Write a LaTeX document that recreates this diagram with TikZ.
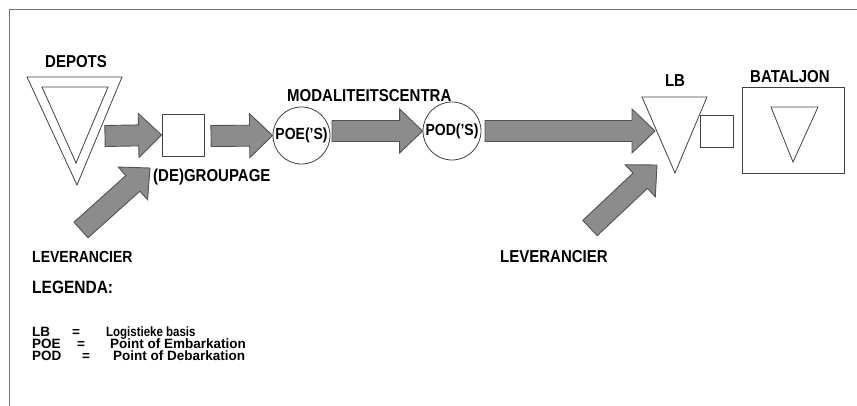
\documentclass[tikz,border=0pt]{standalone}
\usepackage{fontspec}
\usepackage{graphicx}
\setmainfont{Liberation Sans}
\usetikzlibrary{calc}

% slightly taller lettering
\newcommand{\tall}[1]{\scalebox{1}[1.15]{#1}}

% block arrow from a tail coordinate to a tip coordinate
\newcommand{\bashaft}{10.5pt}
\newcommand{\bahead}{23pt}
\newcommand{\bahalf}{22pt}
\newcommand{\blockarrow}[2]{%
  \coordinate (ba-base) at ($(#2)!\bahead!(#1)$);
  \filldraw[bigarrow]
    ($(#1)!\bashaft!90:(#2)$) --
    ($(ba-base)!\bashaft!-90:(#1)$) --
    ($(ba-base)!\bahalf!-90:(#1)$) --
    (#2) --
    ($(ba-base)!\bahalf!90:(#1)$) --
    ($(ba-base)!\bashaft!90:(#1)$) --
    ($(#1)!\bashaft!-90:(#2)$) -- cycle;}

\begin{document}
\begin{tikzpicture}[x=1pt,y=-1pt,
  outline/.style={draw=black!75,line width=0.8pt},
  bigarrow/.style={fill=black!45,draw=black!68,line width=0.9pt},
  heading/.style={font=\fontsize{15}{18}\selectfont\bfseries,inner sep=0pt,anchor=base west},
  legend/.style={font=\fontsize{13.5}{16}\selectfont\bfseries,inner sep=0pt,anchor=base west,
    text height=9.5pt,text depth=1.5pt},
  inside/.style={font=\fontsize{14}{16}\selectfont\bfseries,inner sep=0pt}]
\useasboundingbox (0,0) rectangle (857,406);

% frame
\draw[black!55,line width=1pt] (857,10) -- (9,10) -- (9,406);

% depots: double triangle
\draw[outline] (27,77) -- (122,77) -- (77,185) -- cycle;
\draw[outline] (42,87) -- (108,87) -- (76,163) -- cycle;
\node[heading] (depots) at (45,68) {\tall{DEPOTS}};

% (de)groupage
\node[outline,minimum width=42pt,minimum height=42pt,inner sep=0pt] (grp) at (183,135) {};
\node[heading] (grplabel) at (153,182) {\tall{(DE)GROUPAGE}};

% modaliteitscentra
\node[heading] (modal) at (287,102) {\tall{MODALITEITSCENTRA}};
\node[outline,circle,minimum size=57pt,inner sep=0pt] (poe) at (301.5,135.5) {};
\node[inside] at (poe.center) {\tall{POE('S)}};
\node[outline,circle,minimum size=58pt,inner sep=0pt] (pod) at (452,131) {};
\node[inside] at (pod.center) {\tall{POD('S)}};

% logistieke basis
\draw[outline] (642,97) -- (707,97) -- (675,173) -- cycle;
\coordinate (lbedge) at (655,131);
\node[heading,anchor=base] (lb) at (675,87) {\tall{LB}};
\node[outline,minimum width=33pt,minimum height=32pt,inner sep=0pt] (lbbox) at (716.5,131) {};

% bataljon
\node[outline,minimum width=102pt,minimum height=86pt,inner sep=0pt] (bat) at (793,130) {};
\draw[outline] (771,107) -- (818,107) -- (793,162) -- cycle;
\node[heading] (batlabel) at (750,83) {\tall{BATALJON}};

% suppliers
\node[heading,font=\fontsize{14}{17}\selectfont\bfseries] (lev1) at (32,262) {\tall{LEVERANCIER}};
\node[heading] (lev2) at (500,262) {\tall{LEVERANCIER}};

% flow
\coordinate (a1) at (105,136);
\coordinate (a2) at (211,136);
\coordinate (a3) at (332,131);
\coordinate (a4) at (485,131);
\coordinate (d1) at (81,230);
\coordinate (d1tip) at (150,168);
\coordinate (d2) at (590,228);
\coordinate (d2tip) at (657,165);
\blockarrow{a1}{grp.west}
\blockarrow{a2}{poe.west}
\blockarrow{a3}{pod.west}
\blockarrow{a4}{lbedge}
\blockarrow{d1}{d1tip}
\blockarrow{d2}{d2tip}

% legend
\node[heading,font=\fontsize{15.5}{18}\selectfont\bfseries] (leg) at (32,293) {\tall{LEGENDA:}};
\node[legend] (k1) at (32,336) {LB};
\node[legend] (e1) at (72,336) {=};
\node[legend] (v1) at (106,336) {\scalebox{0.85}[1]{Logistieke basis}};
\node[legend] (k2) at (32,348) {POE};
\node[legend] (e2) at (77,348) {=};
\node[legend] (v2) at (110,348) {Point of Embarkation};
\node[legend] (k3) at (32,360) {POD};
\node[legend] (e3) at (82,360) {=};
\node[legend] (v3) at (113,360) {Point of Debarkation};
\end{tikzpicture}
\end{document}
